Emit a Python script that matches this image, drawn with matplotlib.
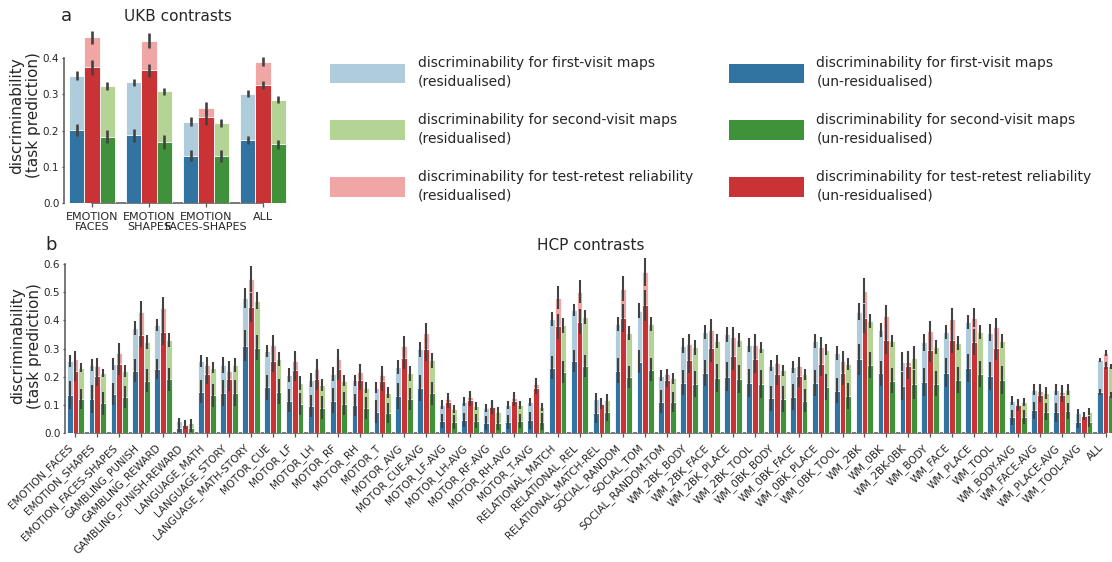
import colorsys
import numpy as np
import matplotlib
matplotlib.use("Agg")
import matplotlib.pyplot as plt
from matplotlib.colors import to_rgb
from matplotlib.patches import Patch

plt.rcParams['font.family'] = ['DejaVu Sans']

# ---------------- UKB data ----------------
ukb_labels = ["EMOTION\nFACES", "EMOTION\nSHAPES", "EMOTION\nFACES-SHAPES", "ALL"]

ukb_first_res = [0.351, 0.333, 0.224, 0.302]
ukb_first_raw = [0.202, 0.187, 0.131, 0.173]
ukb_retest_res = [0.457, 0.448, 0.262, 0.390]
ukb_retest_raw = [0.374, 0.366, 0.236, 0.326]
ukb_second_res = [0.323, 0.308, 0.222, 0.285]
ukb_second_raw = [0.183, 0.169, 0.129, 0.162]

ukb_first_res_err = [0.012, 0.010, 0.012, 0.009]
ukb_first_raw_err = [0.017, 0.018, 0.016, 0.011]
ukb_retest_res_err = [0.017, 0.020, 0.018, 0.012]
ukb_retest_raw_err = [0.022, 0.018, 0.020, 0.012]
ukb_second_res_err = [0.011, 0.010, 0.011, 0.009]
ukb_second_raw_err = [0.018, 0.019, 0.016, 0.012]

# ---------------- HCP data ----------------
hcp_labels = [
    "EMOTION_FACES", "EMOTION_SHAPES", "EMOTION_FACES-SHAPES", "GAMBLING_PUNISH",
    "GAMBLING_REWARD", "GAMBLING_PUNISH-REWARD", "LANGUAGE_MATH", "LANGUAGE_STORY",
    "LANGUAGE_MATH-STORY", "MOTOR_CUE", "MOTOR_LF", "MOTOR_LH", "MOTOR_RF", "MOTOR_RH",
    "MOTOR_T", "MOTOR_AVG", "MOTOR_CUE-AVG", "MOTOR_LF-AVG", "MOTOR_LH-AVG",
    "MOTOR_RF-AVG", "MOTOR_RH-AVG", "MOTOR_T-AVG", "RELATIONAL_MATCH", "RELATIONAL_REL",
    "RELATIONAL_MATCH-REL", "SOCIAL_RANDOM", "SOCIAL_TOM", "SOCIAL_RANDOM-TOM",
    "WM_2BK_BODY", "WM_2BK_FACE", "WM_2BK_PLACE", "WM_2BK_TOOL", "WM_0BK_BODY",
    "WM_0BK_FACE", "WM_0BK_PLACE", "WM_0BK_TOOL", "WM_2BK", "WM_0BK", "WM_2BK-0BK",
    "WM_BODY", "WM_FACE", "WM_PLACE", "WM_TOOL", "WM_BODY-AVG", "WM_FACE-AVG",
    "WM_PLACE-AVG", "WM_TOOL-AVG", "ALL",
]

hcp_first_res = [0.256, 0.242, 0.246, 0.373, 0.384, 0.043, 0.256, 0.242, 0.479, 0.292,
                 0.207, 0.189, 0.210, 0.188, 0.162, 0.236, 0.297, 0.102, 0.112, 0.090,
                 0.100, 0.110, 0.405, 0.437, 0.122, 0.387, 0.435, 0.204, 0.311, 0.359,
                 0.350, 0.313, 0.239, 0.235, 0.327, 0.283, 0.430, 0.366, 0.254, 0.323,
                 0.359, 0.395, 0.356, 0.116, 0.155, 0.154, 0.073, 0.260]
hcp_first_raw = [0.136, 0.122, 0.139, 0.222, 0.227, 0.020, 0.148, 0.143, 0.310, 0.163,
                 0.116, 0.097, 0.116, 0.100, 0.077, 0.132, 0.161, 0.044, 0.047, 0.038,
                 0.041, 0.047, 0.233, 0.256, 0.072, 0.222, 0.254, 0.112, 0.179, 0.214,
                 0.201, 0.178, 0.124, 0.129, 0.178, 0.151, 0.262, 0.212, 0.168, 0.183,
                 0.215, 0.230, 0.204, 0.056, 0.082, 0.074, 0.040, 0.146]
hcp_retest_res = [0.264, 0.238, 0.284, 0.429, 0.443, 0.031, 0.242, 0.221, 0.547, 0.313,
                  0.256, 0.227, 0.264, 0.217, 0.208, 0.311, 0.355, 0.121, 0.129, 0.095,
                  0.126, 0.175, 0.481, 0.502, 0.106, 0.512, 0.573, 0.209, 0.316, 0.366,
                  0.340, 0.313, 0.249, 0.239, 0.306, 0.256, 0.505, 0.416, 0.253, 0.363,
                  0.405, 0.410, 0.375, 0.101, 0.150, 0.147, 0.062, 0.285]
hcp_retest_raw = [0.222, 0.203, 0.246, 0.349, 0.358, 0.030, 0.210, 0.191, 0.446, 0.256,
                  0.225, 0.194, 0.229, 0.189, 0.186, 0.268, 0.297, 0.110, 0.118, 0.092,
                  0.115, 0.160, 0.379, 0.396, 0.105, 0.408, 0.453, 0.189, 0.260, 0.303,
                  0.274, 0.264, 0.210, 0.204, 0.247, 0.215, 0.407, 0.332, 0.238, 0.296,
                  0.331, 0.324, 0.303, 0.099, 0.137, 0.136, 0.062, 0.239]
hcp_second_res = [0.233, 0.213, 0.221, 0.323, 0.331, 0.038, 0.233, 0.242, 0.469, 0.263,
                  0.178, 0.171, 0.186, 0.162, 0.144, 0.212, 0.258, 0.086, 0.097, 0.077,
                  0.100, 0.093, 0.382, 0.412, 0.119, 0.356, 0.388, 0.195, 0.304, 0.327,
                  0.330, 0.303, 0.223, 0.209, 0.296, 0.246, 0.397, 0.327, 0.268, 0.306,
                  0.319, 0.358, 0.327, 0.111, 0.143, 0.154, 0.076, 0.237]
hcp_second_raw = [0.122, 0.106, 0.129, 0.187, 0.191, 0.019, 0.134, 0.143, 0.303, 0.148,
                  0.104, 0.091, 0.105, 0.089, 0.071, 0.122, 0.141, 0.041, 0.044, 0.037,
                  0.045, 0.041, 0.217, 0.239, 0.077, 0.200, 0.225, 0.110, 0.175, 0.196,
                  0.191, 0.175, 0.121, 0.116, 0.164, 0.132, 0.242, 0.187, 0.173, 0.176,
                  0.189, 0.210, 0.189, 0.059, 0.077, 0.079, 0.041, 0.135]

hcp_first_res_err = [0.020, 0.020, 0.020, 0.025, 0.020, 0.012, 0.020, 0.030, 0.035, 0.020,
                     0.025, 0.025, 0.025, 0.020, 0.020, 0.025, 0.025, 0.015, 0.015, 0.015,
                     0.015, 0.015, 0.025, 0.020, 0.020, 0.025, 0.025, 0.020, 0.025, 0.025,
                     0.025, 0.025, 0.020, 0.020, 0.025, 0.025, 0.030, 0.025, 0.035, 0.030,
                     0.025, 0.025, 0.030, 0.015, 0.020, 0.020, 0.012, 0.008]
hcp_first_raw_err = [0.050, 0.050, 0.040, 0.040, 0.035, 0.015, 0.040, 0.045, 0.055, 0.045,
                     0.040, 0.040, 0.045, 0.040, 0.040, 0.045, 0.045, 0.025, 0.025, 0.025,
                     0.025, 0.030, 0.040, 0.040, 0.035, 0.045, 0.040, 0.040, 0.045, 0.045,
                     0.050, 0.050, 0.045, 0.045, 0.045, 0.045, 0.055, 0.045, 0.050, 0.050,
                     0.050, 0.050, 0.050, 0.025, 0.030, 0.035, 0.020, 0.010]
hcp_retest_res_err = [0.027, 0.030, 0.035, 0.040, 0.040, 0.015, 0.030, 0.035, 0.045, 0.035,
                      0.035, 0.035, 0.035, 0.030, 0.030, 0.035, 0.035, 0.020, 0.020, 0.020,
                      0.020, 0.020, 0.040, 0.040, 0.020, 0.045, 0.050, 0.020, 0.035, 0.040,
                      0.035, 0.040, 0.030, 0.030, 0.035, 0.035, 0.045, 0.040, 0.040, 0.035,
                      0.040, 0.035, 0.035, 0.020, 0.025, 0.025, 0.015, 0.010]
hcp_retest_raw_err = [0.035, 0.035, 0.040, 0.045, 0.045, 0.015, 0.035, 0.040, 0.050, 0.040,
                      0.040, 0.040, 0.040, 0.035, 0.035, 0.040, 0.040, 0.020, 0.020, 0.025,
                      0.020, 0.020, 0.045, 0.045, 0.020, 0.050, 0.055, 0.025, 0.045, 0.050,
                      0.050, 0.050, 0.040, 0.040, 0.045, 0.045, 0.050, 0.050, 0.045, 0.045,
                      0.045, 0.045, 0.045, 0.020, 0.025, 0.025, 0.015, 0.012]
hcp_second_res_err = [0.015, 0.015, 0.020, 0.025, 0.025, 0.012, 0.020, 0.025, 0.030, 0.025,
                      0.025, 0.020, 0.020, 0.020, 0.020, 0.025, 0.025, 0.015, 0.015, 0.015,
                      0.015, 0.015, 0.025, 0.025, 0.020, 0.025, 0.025, 0.020, 0.025, 0.025,
                      0.025, 0.020, 0.020, 0.020, 0.020, 0.020, 0.025, 0.020, 0.040, 0.025,
                      0.025, 0.025, 0.025, 0.015, 0.020, 0.020, 0.012, 0.008]
hcp_second_raw_err = [0.035, 0.040, 0.040, 0.040, 0.040, 0.015, 0.040, 0.045, 0.045, 0.045,
                      0.040, 0.040, 0.040, 0.040, 0.035, 0.040, 0.040, 0.025, 0.025, 0.025,
                      0.025, 0.030, 0.040, 0.040, 0.035, 0.040, 0.040, 0.035, 0.045, 0.050,
                      0.050, 0.050, 0.045, 0.040, 0.045, 0.045, 0.045, 0.045, 0.050, 0.045,
                      0.045, 0.045, 0.050, 0.025, 0.030, 0.030, 0.020, 0.010]


def desat(color, prop=0.75):
    h, l, s = colorsys.rgb_to_hls(*to_rgb(color))
    return colorsys.hls_to_rgb(h, l, s * prop)


# "Paired" palette, slightly desaturated
c_first_res, c_first_raw = desat("#a6cee3"), desat("#1f78b4")
c_second_res, c_second_raw = desat("#b2df8a"), desat("#33a02c")
c_retest_res, c_retest_raw = desat("#fb9a99"), desat("#e31a1c")
err_color = "#424242"
spine_color = "#555555"
text_color = "#262626"

W, H = 1112, 562
fig = plt.figure(figsize=(W / 100, H / 100), dpi=100)


def draw_panel(ax, labels, groups, err_lw):
    n = len(labels)
    x = np.arange(n)
    width = 0.8 / 3
    offsets = [-width, 0.0, width]
    for (res, raw, res_err, raw_err, c_res, c_raw), off in zip(groups, offsets):
        ax.bar(x + off, res, width, color=c_res, edgecolor="white", linewidth=0.6, zorder=1)
        ax.vlines(x + off, np.array(res) - np.array(res_err), np.array(res) + np.array(res_err),
                  color=err_color, lw=err_lw, zorder=2)
    for (res, raw, res_err, raw_err, c_res, c_raw), off in zip(groups, offsets):
        ax.bar(x + off, raw, width, color=c_raw, edgecolor="white", linewidth=0.6, zorder=3)
        ax.vlines(x + off, np.array(raw) - np.array(raw_err), np.array(raw) + np.array(raw_err),
                  color=err_color, lw=err_lw, zorder=4)
    ax.set_xlim(-0.5, n - 0.5)
    ax.set_xticks(x)
    for side in ("top", "right"):
        ax.spines[side].set_visible(False)
    for side in ("left", "bottom"):
        ax.spines[side].set_color(spine_color)
        ax.spines[side].set_linewidth(1.1)
    ax.spines["bottom"].set_bounds(0, n - 1)
    ax.tick_params(colors=spine_color, labelcolor=text_color, length=3, width=0.9)
    ax.tick_params(axis="y", length=1.5, pad=1.5)


# ---------------- panel a ----------------
ax_a = fig.add_axes([63.5 / W, 1 - 203 / H, 228 / W, 175 / H])
draw_panel(ax_a, ukb_labels, [
    (ukb_first_res, ukb_first_raw, ukb_first_res_err, ukb_first_raw_err, c_first_res, c_first_raw),
    (ukb_retest_res, ukb_retest_raw, ukb_retest_res_err, ukb_retest_raw_err, c_retest_res, c_retest_raw),
    (ukb_second_res, ukb_second_raw, ukb_second_res_err, ukb_second_raw_err, c_second_res, c_second_raw),
], err_lw=1.9)
ax_a.set_ylim(0, 0.483)
ax_a.set_yticks(np.arange(0, 0.41, 0.1))
ax_a.spines["left"].set_bounds(0, 0.4)
ax_a.set_xticklabels(ukb_labels, fontsize=8, linespacing=1.05)
ax_a.tick_params(axis="y", labelsize=7.5)
ax_a.set_ylabel("discriminability\n(task prediction)", fontsize=11, color=text_color, labelpad=1)
ax_a.set_title("UKB contrasts", fontsize=11, pad=5, color=text_color)
fig.text(61 / W, 1 - 21 / H, "a", fontsize=13, va="baseline", color=text_color)

# ---------------- panel b ----------------
ax_b = fig.add_axes([64.5 / W, 1 - 433.3 / H, 1052 / W, 175.3 / H])
draw_panel(ax_b, hcp_labels, [
    (hcp_first_res, hcp_first_raw, hcp_first_res_err, hcp_first_raw_err, c_first_res, c_first_raw),
    (hcp_retest_res, hcp_retest_raw, hcp_retest_res_err, hcp_retest_raw_err, c_retest_res, c_retest_raw),
    (hcp_second_res, hcp_second_raw, hcp_second_res_err, hcp_second_raw_err, c_second_res, c_second_raw),
], err_lw=1.5)
ax_b.set_ylim(0, 0.621)
ax_b.set_yticks(np.arange(0, 0.61, 0.1))
ax_b.spines["left"].set_bounds(0, 0.6)
ax_b.set_xticklabels(hcp_labels, fontsize=7.5, rotation=45, ha="right")
ax_b.tick_params(axis="y", labelsize=7.5)
ax_b.set_ylabel("discriminability\n(task prediction)", fontsize=11, color=text_color, labelpad=1)
ax_b.set_title("HCP contrasts", fontsize=11, pad=5.5, color=text_color)
fig.text(45 / W, 1 - 250 / H, "b", fontsize=13, va="baseline", color=text_color)

# ---------------- legend ----------------
handles = [
    Patch(facecolor=c_first_res), Patch(facecolor=c_second_res), Patch(facecolor=c_retest_res),
    Patch(facecolor=c_first_raw), Patch(facecolor=c_second_raw), Patch(facecolor=c_retest_raw),
]
legend_labels = [
    "discriminability for first-visit maps\n(residualised)",
    "discriminability for second-visit maps\n(residualised)",
    "discriminability for test-retest reliability\n(residualised)",
    "discriminability for first-visit maps\n(un-residualised)",
    "discriminability for second-visit maps\n(un-residualised)",
    "discriminability for test-retest reliability\n(un-residualised)",
]
leg = fig.legend(handles, legend_labels, ncol=2, loc="upper left",
                 bbox_to_anchor=(330 / W, 1 - 56.5 / H), frameon=False, fontsize=10,
                 handlelength=5.4, handleheight=1.8, handletextpad=0.9,
                 columnspacing=2.6, labelspacing=1.8, borderpad=0, borderaxespad=0)
for t in leg.get_texts():
    t.set_color(text_color)
    t.set_linespacing(1.35)

fig.savefig("out.png", dpi=100)
